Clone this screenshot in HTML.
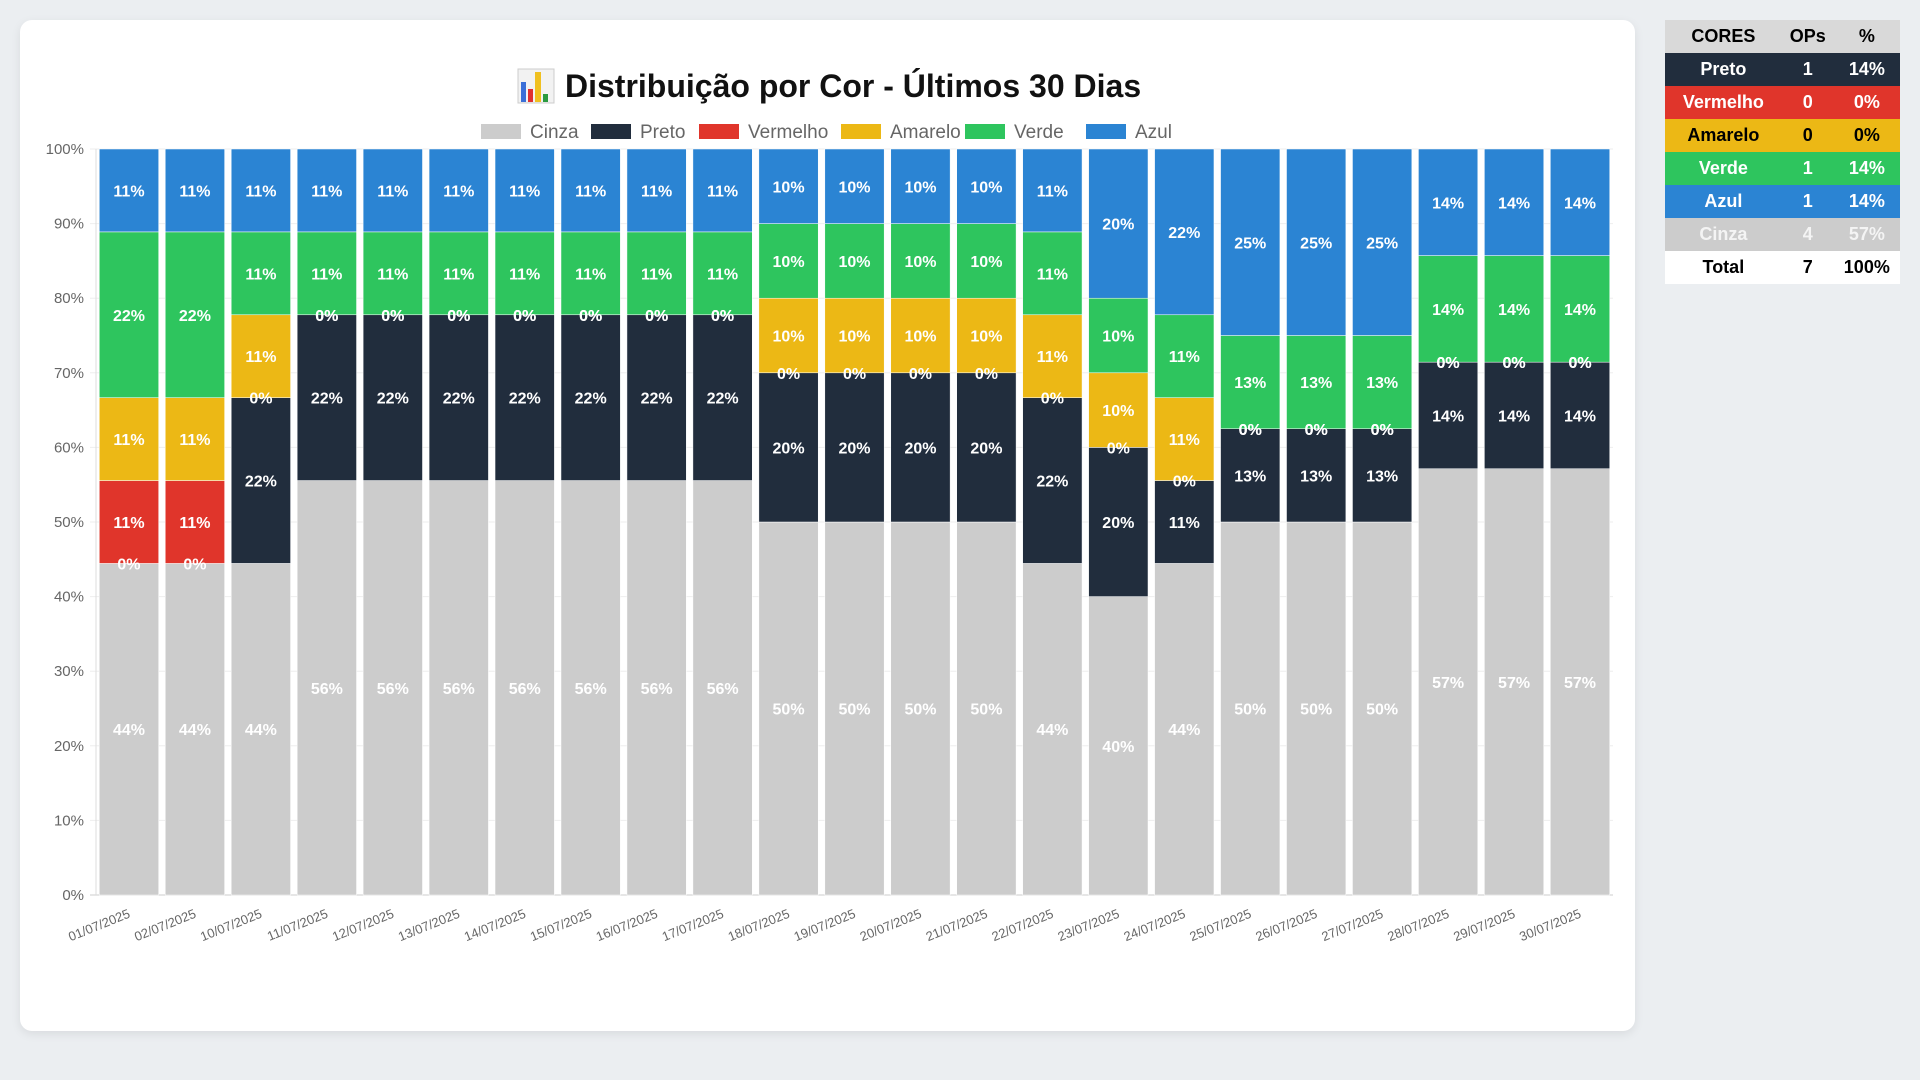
<!DOCTYPE html>
<html><head><meta charset="utf-8">
<style>
body{margin:0;width:1920px;height:1080px;background:#ebeef1;font-family:"Liberation Sans",sans-serif;overflow:hidden;position:relative}
#card{position:absolute;left:20px;top:20px;width:1615px;height:1011px;background:#fff;border-radius:12px;box-shadow:0 3px 10px rgba(0,0,0,0.08)}
#tbl{position:absolute;left:1665px;top:20px;width:235px;border-collapse:collapse;font-weight:bold;font-size:18px}
#tbl td,#tbl th{height:33px;padding:0;text-align:center}
</style></head><body>
<div id="card"></div>
<svg id="chart" width="1920" height="1080" style="position:absolute;left:0;top:0"></svg>
<table id="tbl">
<tr style="background:#d9d9d9;color:#000"><th>CORES</th><th>OPs</th><th>%</th></tr>
<tr style="background:#212d3d;color:#fff"><td>Preto</td><td>1</td><td>14%</td></tr>
<tr style="background:#e0352b;color:#fff"><td>Vermelho</td><td>0</td><td>0%</td></tr>
<tr style="background:#ecb815;color:#000"><td>Amarelo</td><td>0</td><td>0%</td></tr>
<tr style="background:#2ec55e;color:#fff"><td>Verde</td><td>1</td><td>14%</td></tr>
<tr style="background:#2b84d3;color:#fff"><td>Azul</td><td>1</td><td>14%</td></tr>
<tr style="background:#cccccc;color:#f4f4f4"><td>Cinza</td><td>4</td><td>57%</td></tr>
<tr style="background:#fff;color:#000"><td>Total</td><td>7</td><td>100%</td></tr>
</table>
<script>
const categories=["01/07/2025","02/07/2025","10/07/2025","11/07/2025","12/07/2025","13/07/2025","14/07/2025","15/07/2025","16/07/2025","17/07/2025","18/07/2025","19/07/2025","20/07/2025","21/07/2025","22/07/2025","23/07/2025","24/07/2025","25/07/2025","26/07/2025","27/07/2025","28/07/2025","29/07/2025","30/07/2025"];
const seriesNames=["Cinza","Preto","Vermelho","Amarelo","Verde","Azul"];
const cinza   =[4,4,4,5,5,5,5,5,5,5,5,5,5,5,4,4,4,4,4,4,4,4,4];
const preto   =[0,0,2,2,2,2,2,2,2,2,2,2,2,2,2,2,1,1,1,1,1,1,1];
const vermelho=[1,1,0,0,0,0,0,0,0,0,0,0,0,0,0,0,0,0,0,0,0,0,0];
const amarelo =[1,1,1,0,0,0,0,0,0,0,1,1,1,1,1,1,1,0,0,0,0,0,0];
const verde   =[2,2,1,1,1,1,1,1,1,1,1,1,1,1,1,1,1,1,1,1,1,1,1];
const azul    =[1,1,1,1,1,1,1,1,1,1,1,1,1,1,1,2,2,2,2,2,1,1,1];
const yTicks=[0,10,20,30,40,50,60,70,80,90,100];
const colors=["#cccccc","#212d3d","#e0352b","#ecb815","#2ec55e","#2b84d3"];
const series=[cinza,preto,vermelho,amarelo,verde,azul];
const NS="http://www.w3.org/2000/svg";
const svg=document.getElementById('chart');
const L=96,R=1613,T=149,B=895;
const band=(R-L)/categories.length;
const xS=i=>L+band*i;
const yS=v=>B-(B-T)*v/100;
function mk(t,a,p){const e=document.createElementNS(NS,t);for(const k in a)e.setAttribute(k,a[k]);(p||svg).appendChild(e);return e;}
// title
let t=mk('text',{x:565,y:97,'text-anchor':'start','font-size':32,'font-weight':'bold',fill:'#111'});
t.textContent='Distribuição por Cor - Últimos 30 Dias';


let ic=mk('g',{});


mk('rect',{x:518,y:69,width:36,height:34,fill:'#f2f2f2',stroke:'#ccc'},ic);
mk('rect',{x:521,y:82,width:5,height:20,fill:'#3b6fd8'},ic);
mk('rect',{x:528,y:89,width:5,height:13,fill:'#e03030'},ic);
mk('rect',{x:535,y:72,width:6,height:30,fill:'#f0c020'},ic);
mk('rect',{x:543,y:94,width:5,height:8,fill:'#2a9a40'},ic);
// legend
const legX=[481,591,699,841,965,1086];
seriesNames.forEach((n,i)=>{
  const g=mk('g',{});
  
  
  mk('rect',{x:legX[i],y:124,width:40,height:15,fill:colors[i]},g);
  const tx=mk('text',{x:legX[i]+49,y:138,'font-size':19,fill:'#666'},g);
  tx.textContent=n;
});
yTicks.forEach(v=>{
  const ln=mk('line',{x1:L-6,x2:R,y1:yS(v),y2:yS(v),stroke:v===0?'#ccc':'#eee'});
  
  
  const tx=mk('text',{x:L-12,y:yS(v)+5,'text-anchor':'end','font-size':15,fill:'#666'});
  tx.textContent=v+'%';
  
  
});
mk('line',{x1:L,x2:L,y1:T,y2:B,stroke:'#ddd'});
const labels=[];
categories.forEach((c,i)=>{
  const total=series.reduce((s,a)=>s+a[i],0);
  let acc=0;
  const bx=xS(i)+band*0.05, bw=band*0.9;
  series.forEach((arr,k)=>{
    const p=arr[i]/total*100;
    const y0=yS(acc),y1=yS(acc+p);
    const r=mk('rect',{x:bx,y:y1,width:bw,height:y0-y1,fill:colors[k],stroke:'#fff','stroke-width':0.5});
    
    
    labels.push([bx+bw/2,(y0+y1)/2,Math.round(p)+'%']);
    acc+=p;
  });
  const tx=mk('text',{transform:`translate(${xS(i)+band/2+2},${B+22}) rotate(-22)`,'text-anchor':'end','font-size':13,fill:'#666'});
  tx.textContent=c;
  
  
});
labels.forEach(l=>{
  const tx=mk('text',{x:l[0],y:l[1]+6,'text-anchor':'middle','font-size':16,'font-weight':'bold',fill:'#fff'});
  tx.textContent=l[2];
  
  
});
</script>
</body></html>
